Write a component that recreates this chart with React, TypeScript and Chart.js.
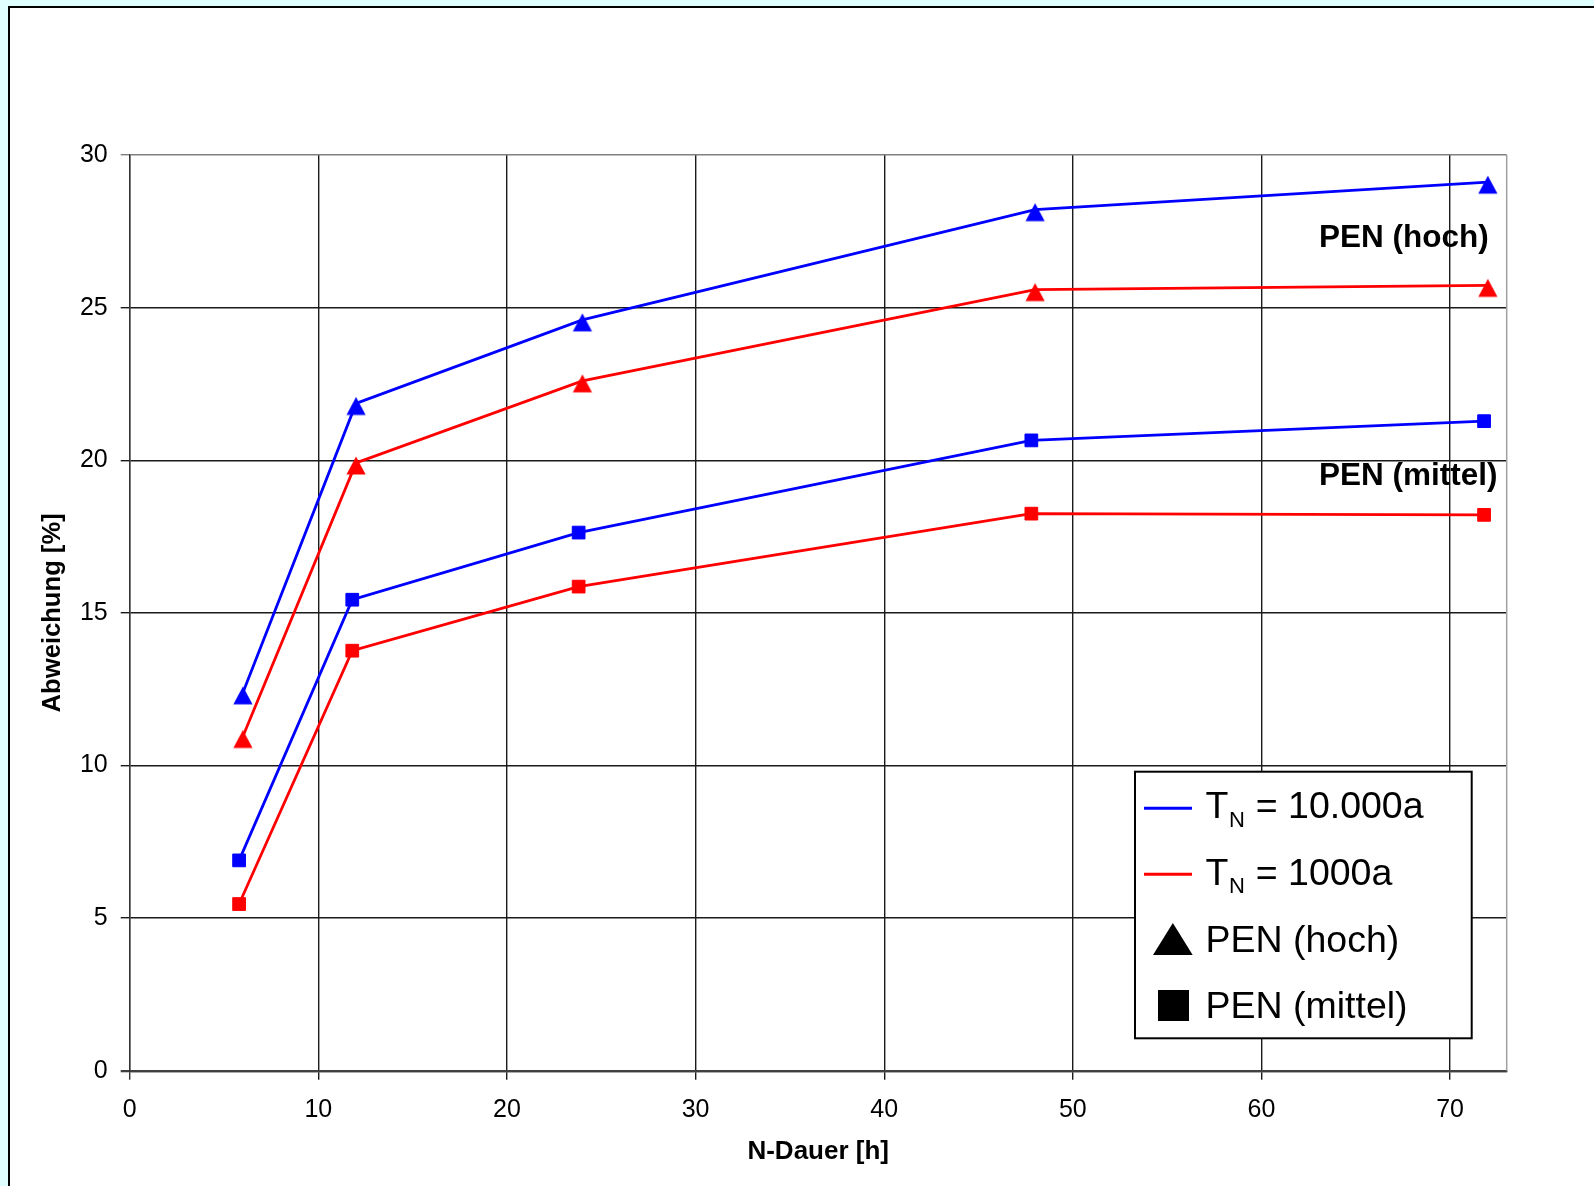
import React, { useEffect, useRef } from "react";
import { Chart, registerables } from "chart.js";

Chart.register(...registerables);

// ---- data ----
const durationsHoch = [6, 12, 24, 48, 72];
const durationsMittel = [5.8, 11.8, 23.8, 47.8, 71.8];
const hoch10000 = [12.38, 21.86, 24.6, 28.21, 29.11];
const hoch1000 = [10.95, 19.91, 22.6, 25.59, 25.73];
const mittel10000 = [6.89, 15.43, 17.63, 20.65, 21.28];
const mittel1000 = [5.46, 13.76, 15.86, 18.25, 18.21];

const xTicks = [0, 10, 20, 30, 40, 50, 60, 70];
const yTicks = [0, 5, 10, 15, 20, 25, 30];

const xTitle = "N-Dauer [h]";
const yTitle = "Abweichung [%]";
const legendLines = [
  { main: "T", sub: "N", rest: " = 10.000a", color: "#0000ff" },
  { main: "T", sub: "N", rest: " = 1000a", color: "#ff0000" },
];
const legendMarkers = [
  { label: "PEN (hoch)", shape: "triangle" },
  { label: "PEN (mittel)", shape: "rect" },
];
const annotations = ["PEN (hoch)", "PEN (mittel)"];

const FONT = '"Liberation Sans", Arial, Helvetica, sans-serif';
const CW = 1584;
const CH = 1178;

const toPoints = (xs: number[], ys: number[]) => xs.map((x, i) => ({ x, y: ys[i] }));

// triangle marker image: its box sits slightly below the data point, as in the source
function triangleImage(color: string) {
  const c = document.createElement("canvas");
  c.width = 24;
  c.height = 30;
  const g = c.getContext("2d")!;
  g.fillStyle = color;
  g.beginPath();
  g.moveTo(12, 8.6);
  g.lineTo(21.6, 26.6);
  g.lineTo(2.4, 26.6);
  g.closePath();
  g.fill();
  return c;
}

const overlayPlugin = {
  id: "overlay",
  beforeDatasetsDraw(chart: any) {
    const { ctx, chartArea } = chart;
    ctx.save();
    ctx.strokeStyle = "#a0a0a0";
    ctx.lineWidth = 1.5;
    ctx.beginPath();
    ctx.moveTo(chartArea.right, chartArea.top);
    ctx.lineTo(chartArea.right, chartArea.bottom);
    ctx.stroke();
    ctx.restore();
  },
  afterDraw(chart: any) {
    const { ctx } = chart;
    ctx.save();
    // annotations
    ctx.fillStyle = "#000";
    ctx.textBaseline = "alphabetic";
    ctx.textAlign = "left";
    ctx.font = `bold 31.5px ${FONT}`;
    ctx.fillText(annotations[0], 1309, 239);
    ctx.fillText(annotations[1], 1309, 477);

    // legend box
    const bx = 1125, by = 763.7, bw = 336.7, bh = 266.6;
    ctx.fillStyle = "#fff";
    ctx.fillRect(bx, by, bw, bh);
    ctx.strokeStyle = "#000";
    ctx.lineWidth = 2;
    ctx.strokeRect(bx, by, bw, bh);

    const textX = 1195.5;
    const lineY = [800.3, 866.3];
    const baseY = [810.3, 877];
    legendLines.forEach((it, i) => {
      ctx.strokeStyle = it.color;
      ctx.lineWidth = 3;
      ctx.beginPath();
      ctx.moveTo(1134, lineY[i]);
      ctx.lineTo(1182, lineY[i]);
      ctx.stroke();
      ctx.fillStyle = "#000";
      ctx.font = `37.5px ${FONT}`;
      ctx.fillText(it.main, textX, baseY[i]);
      let x = textX + ctx.measureText(it.main).width + 0.5;
      ctx.font = `22px ${FONT}`;
      ctx.fillText(it.sub, x, baseY[i] + 8.4);
      x += ctx.measureText(it.sub).width + 0.5;
      ctx.font = `37.5px ${FONT}`;
      ctx.fillText(it.rest, x, baseY[i]);
    });

    // marker entries
    ctx.fillStyle = "#000";
    ctx.beginPath();
    ctx.moveTo((1143 + 1182.7) / 2, 915);
    ctx.lineTo(1182.7, 947);
    ctx.lineTo(1143, 947);
    ctx.closePath();
    ctx.fill();
    ctx.fillRect(1148, 982, 31, 31);
    ctx.font = `37.5px ${FONT}`;
    ctx.fillText(legendMarkers[0].label, textX, 943.7);
    ctx.fillText(legendMarkers[1].label, textX, 1010);
    ctx.restore();
  },
};

export default function App() {
  const ref = useRef<HTMLCanvasElement | null>(null);

  useEffect(() => {
    document.body.style.margin = "0";
    document.body.style.overflow = "hidden";
    const canvas = ref.current;
    if (!canvas) return;

    const mk = (
      label: string,
      xs: number[],
      data: number[],
      color: string,
      style: any,
      radius: number
    ) => ({
      label,
      data: toPoints(xs, data),
      borderColor: color,
      backgroundColor: color,
      borderWidth: 2.8,
      pointStyle: style,
      pointRadius: radius,
      pointHoverRadius: radius,
      pointBorderWidth: 1,
      pointBackgroundColor: color,
      pointBorderColor: color,
      showLine: true,
      tension: 0,
      fill: false,
    });

    const chart = new Chart(canvas, {
      type: "line",
      data: {
        datasets: [
          mk("TN = 1000a PEN (mittel)", durationsMittel, mittel1000, "#ff0000", "rect", 9),
          mk("TN = 10.000a PEN (mittel)", durationsMittel, mittel10000, "#0000ff", "rect", 9),
          mk("TN = 1000a PEN (hoch)", durationsHoch, hoch1000, "#ff0000", triangleImage("#ff0000"), 10.5),
          mk("TN = 10.000a PEN (hoch)", durationsHoch, hoch10000, "#0000ff", triangleImage("#0000ff"), 10.5),
        ] as any,
      },
      options: {
        responsive: false,
        maintainAspectRatio: false,
        devicePixelRatio: 1,
        animation: false,
        events: [],
        layout: { padding: { top: 147, right: 87.3, left: 0, bottom: 0 } },
        plugins: {
          legend: { display: false },
          tooltip: { enabled: false },
          title: { display: false },
        },
        scales: {
          x: {
            type: "linear",
            min: 0,
            max: 73,
            afterBuildTicks: (s: any) => {
              s.ticks = xTicks.map((v) => ({ value: v }));
            },
            afterFit: (s: any) => {
              s.height = 115.3;
            },
            grid: {
              color: (c: any) => (c.tick && c.tick.value === 0 ? "#333333" : "#1a1a1a"),
              lineWidth: 1.4,
              drawTicks: true,
              tickLength: 9,
            },
            border: { display: true, color: "#404040", width: 2.3 },
            ticks: {
              color: "#000",
              font: { family: FONT, size: 25 },
              padding: 15.5,
              maxRotation: 0,
              autoSkip: false,
            },
            title: {
              display: true,
              text: xTitle,
              color: "#000",
              font: { family: FONT, size: 26, weight: "bold" },
              padding: { top: 0, bottom: 18.4 },
            },
          },
          y: {
            type: "linear",
            min: 0,
            max: 30,
            afterBuildTicks: (s: any) => {
              s.ticks = yTicks.map((v) => ({ value: v }));
            },
            afterFit: (s: any) => {
              s.width = 119.7;
            },
            grid: {
              color: (c: any) =>
                c.tick && c.tick.value === 30
                  ? "#808080"
                  : c.tick && c.tick.value === 0
                  ? "#404040"
                  : "#1a1a1a",
              lineWidth: (c: any) => (c.tick && c.tick.value === 0 ? 2.3 : 1.4),
              drawTicks: true,
              tickLength: 9,
            },
            border: { display: true, color: "#333333", width: 1.4 },
            ticks: {
              color: "#000",
              font: { family: FONT, size: 25 },
              padding: 13,
              autoSkip: false,
            },
            title: {
              display: true,
              text: yTitle,
              color: "#000",
              font: { family: FONT, size: 25.6, weight: "bold" },
              padding: { top: 28, bottom: 0 },
            },
          },
        },
      } as any,
      plugins: [overlayPlugin],
    });

    return () => {
      chart.destroy();
    };
  }, []);

  return (
    <div
      style={{
        position: "absolute",
        left: 0,
        top: 0,
        width: 1594,
        height: 1186,
        background: "#e0ffff",
        overflow: "hidden",
      }}
    >
      <div
        style={{
          position: "absolute",
          left: 8,
          top: 6,
          right: 0,
          bottom: 0,
          background: "#ffffff",
          borderLeft: "2px solid #000",
          borderTop: "2px solid #000",
        }}
      >
        <canvas
          ref={ref}
          width={CW}
          height={CH}
          style={{ display: "block", width: CW, height: CH }}
        />
      </div>
    </div>
  );
}
